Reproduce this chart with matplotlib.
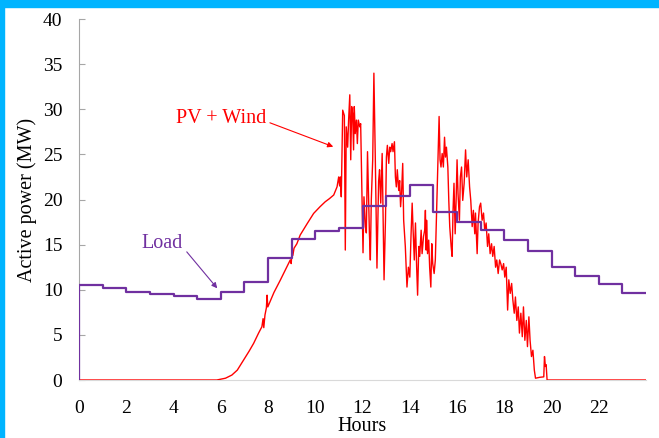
import matplotlib
matplotlib.use('Agg')
import matplotlib.pyplot as plt
from matplotlib.patches import Rectangle

plt.rcParams['font.family'] = ['Liberation Serif', 'DejaVu Serif']

# Load: hourly step values (MW)
load_hours = list(range(0, 25))
load_mw = [10.5, 10.15, 9.8, 9.55, 9.35, 8.97, 9.75, 10.9, 13.5, 15.6, 16.5, 16.8,
           19.25, 20.4, 21.65, 18.65, 17.5, 16.6, 15.55, 14.3, 12.5, 11.5, 10.6, 9.6]

# PV + Wind trace
pv_hours = [0.0, 5.83, 6.2, 6.47, 6.7, 6.96, 7.2, 7.39, 7.6, 7.74, 7.79, 7.82, 7.87,
            7.93, 7.96, 7.99, 8.25, 8.52, 8.75, 8.94, 8.98, 9.02, 9.05, 9.1, 9.22,
            9.36, 9.65, 9.93, 10.2, 10.42, 10.6, 10.78, 10.92, 10.99, 11.03, 11.06,
            11.1, 11.16, 11.23, 11.27, 11.31, 11.37, 11.41, 11.46, 11.5, 11.54, 11.58,
            11.62, 11.65, 11.69, 11.74, 11.78, 11.82, 11.88, 11.92, 11.98, 12.02,
            12.06, 12.12, 12.16, 12.21, 12.29, 12.33, 12.37, 12.43, 12.48, 12.54,
            12.61, 12.68, 12.72, 12.77, 12.83, 12.87, 12.91, 12.97, 13.01, 13.05,
            13.11, 13.15, 13.19, 13.25, 13.29, 13.35, 13.39, 13.43, 13.47, 13.53,
            13.57, 13.61, 13.65, 13.7, 13.74, 13.81, 13.88, 13.94, 14.0, 14.05, 14.1,
            14.14, 14.19, 14.24, 14.29, 14.33, 14.38, 14.42, 14.48, 14.52, 14.58,
            14.63, 14.66, 14.69, 14.71, 14.75, 14.8, 14.84, 14.89, 14.93, 14.97,
            15.03, 15.08, 15.14, 15.2, 15.24, 15.28, 15.32, 15.37, 15.42, 15.47,
            15.51, 15.55, 15.61, 15.65, 15.69, 15.75, 15.79, 15.83, 15.87, 15.92,
            15.96, 16.0, 16.04, 16.1, 16.14, 16.19, 16.24, 16.3, 16.36, 16.41, 16.47,
            16.53, 16.58, 16.64, 16.69, 16.75, 16.78, 16.85, 16.89, 16.95, 17.0,
            17.06, 17.12, 17.17, 17.23, 17.29, 17.34, 17.4, 17.46, 17.51, 17.57,
            17.63, 17.68, 17.74, 17.8, 17.85, 17.91, 17.97, 18.02, 18.08, 18.14,
            18.19, 18.25, 18.31, 18.36, 18.42, 18.47, 18.53, 18.59, 18.64, 18.7,
            18.76, 18.81, 18.87, 18.93, 18.98, 19.04, 19.09, 19.15, 19.21, 19.27,
            19.32, 19.5, 19.67, 19.7, 19.74, 19.77, 19.81, 24.0]
pv_mw = [0.0, 0.0, 0.2, 0.55, 1.1, 2.2, 3.2, 4.06, 5.2, 5.9, 6.8, 5.8, 7.2,
         8.0, 9.4, 8.1, 9.7, 11.07, 12.3, 13.3, 12.9, 14.4, 13.8, 14.6, 15.1,
         16.06, 17.3, 18.46, 19.2, 19.75, 20.1, 20.5, 21.4, 22.5, 21.5, 22.5,
         20.3, 29.9, 29.3, 14.4, 28.05, 25.8, 28.8, 31.6, 24.4, 30.3, 29.5,
         25.5, 30.3, 27.3, 28.8, 26.2, 28.8, 28.05, 28.4, 19.9, 14.1,
         20.3, 17.0, 16.3, 25.3, 16.3, 13.3, 19.9, 24.4, 34.0, 24.5,
         12.4, 22.0, 23.3, 19.6, 25.1, 17.7, 11.1, 17.7, 24.7, 26.0,
         24.0, 25.8, 25.3, 26.2, 25.3, 26.4, 22.5, 21.4, 23.3, 21.0,
         22.1, 19.2, 20.7, 24.0, 17.7, 14.8, 10.3, 12.5, 11.4, 15.9, 19.6,
         16.6, 13.3, 17.4, 12.5, 9.4, 14.8, 13.7, 16.6, 14.0, 15.9,
         16.6, 18.8, 14.4, 17.7, 14.0, 15.5, 12.5, 10.3, 15.1, 12.9,
         11.8, 13.3, 19.2, 25.1, 29.2, 24.4, 23.6, 25.1, 23.6, 26.9,
         24.7, 25.8, 23.6, 19.9, 17.0, 14.8, 13.7, 18.8, 21.8, 16.2,
         19.9, 24.4, 20.7, 17.7, 22.5, 23.6, 19.9, 21.8, 25.5, 22.5, 24.4,
         21.4, 19.9, 17.0, 18.8, 16.2, 18.5, 14.0, 17.4, 19.2, 19.6,
         17.7, 18.5, 16.6, 17.4, 14.8, 16.2, 14.0, 15.1, 13.7, 14.8,
         12.5, 13.3, 11.8, 13.3, 12.9, 12.2, 12.9, 11.4, 12.5, 7.75,
         11.1, 9.6, 10.7, 8.9, 7.4, 9.2, 6.6, 8.1, 5.2, 7.4,
         4.8, 8.1, 4.4, 6.6, 3.7, 7.0, 4.4, 2.6, 3.3, 1.1,
         0.2, 0.3, 0.35, 2.6, 1.5, 1.7, 0.0, 0.0]

x_ticks = list(range(0, 24, 2))
y_ticks = list(range(0, 45, 5))

red = '#FF0000'
purple = '#7030A0'

fig = plt.figure(figsize=(6.59, 4.38), dpi=100)
ax = fig.add_axes([0.1199, 0.1324, 0.8605, 0.8242])

# blue frame strips on the top and left edges
fig.patches.append(Rectangle((0, 1 - 7 / 438), 1, 7 / 438, transform=fig.transFigure,
                             color='#00B4FF', zorder=0))
fig.patches.append(Rectangle((0, 0), 4 / 659, 1, transform=fig.transFigure,
                             color='#00B4FF', zorder=0))

ax.plot(pv_hours, pv_mw, color=red, lw=1.0, zorder=3)
ax.step([0] + load_hours, [0] + load_mw + [load_mw[-1]],
        where='post', color=purple, lw=1.6, zorder=4)

ax.set_xlim(0, 24)
ax.set_ylim(0, 40)
ax.set_xticks(x_ticks)
ax.set_yticks(y_ticks)

for s in ['top', 'right']:
    ax.spines[s].set_visible(False)
ax.spines['left'].set_color('#A6A6A6')
ax.spines['bottom'].set_color('#D9D9D9')
ax.tick_params(axis='y', direction='in', length=4, color='#A6A6A6', labelsize=14, pad=12)
ax.tick_params(axis='x', length=0, labelsize=14, pad=14.5)

ax.set_xlabel('Hours', fontsize=14.5, labelpad=0)
ax.set_ylabel('Active power (MW)', fontsize=14.5, labelpad=4)

# annotations
ax.text(6.02, 29.0, 'PV + Wind', color=red, fontsize=14.5, ha='center', va='center')
ax.annotate('', xy=(10.76, 25.85), xytext=(8.08, 28.5),
            arrowprops=dict(arrowstyle='-|>', color=red, lw=0.8, mutation_scale=8,
                            shrinkA=0, shrinkB=0))
ax.text(3.5, 15.15, 'Load', color=purple, fontsize=14.5, ha='center', va='center')
ax.annotate('', xy=(5.85, 10.16), xytext=(4.56, 14.2),
            arrowprops=dict(arrowstyle='-|>', color=purple, lw=0.8, mutation_scale=8,
                            shrinkA=0, shrinkB=0))

fig.savefig('out.png', dpi=100)
